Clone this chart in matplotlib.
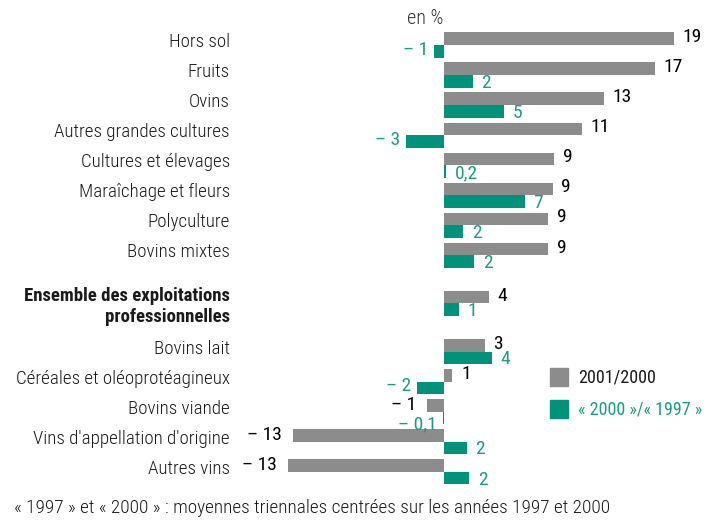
import matplotlib.pyplot as plt
from matplotlib.patches import Rectangle

plt.rcParams['font.family'] = ['Roboto Condensed', 'Liberation Sans Narrow', 'Roboto', 'DejaVu Sans']

# data
categories = ["Hors sol", "Fruits", "Ovins", "Autres grandes cultures",
              "Cultures et élevages", "Maraîchage et fleurs", "Polyculture",
              "Bovins mixtes", "Ensemble des exploitations\nprofessionnelles",
              "Bovins lait", "Céréales et oléoprotéagineux", "Bovins viande",
              "Vins d'appellation d'origine", "Autres vins"]
evol_2001 = [19.0, 17.4, 13.2, 11.4, 9.1, 9.0, 8.6, 8.6, 3.7, 3.4, 0.7, -1.4, -12.5, -12.9]
evol_9700 = [-0.8, 2.4, 5.0, -3.1, 0.2, 6.7, 1.6, 2.5, 1.2, 4.0, -2.2, -0.1, 1.9, 2.1]
labels_2001 = ["19", "17", "13", "11", "9", "9", "9", "9", "4", "3", "1", "– 1", "– 13", "– 13"]
labels_9700 = ["– 1", "2", "5", "– 3", "0,2", "7", "2", "2", "1", "4", "– 2", "– 0,1", "2", "2"]

gray = "#8c8c8c"
teal = "#00927a"
teal_txt = "#1b9c84"

# row positions (gap around the "Ensemble" row)
pos = []
for i in range(len(categories)):
    if i < 8:
        pos.append(i)
    elif i == 8:
        pos.append(8.6)
    else:
        pos.append(10.2 + (i - 9))

fig = plt.figure(figsize=(7.07, 5.22), dpi=100)
ax = fig.add_axes([0, 0, 1, 1])
sx = 12.1  # px per unit
ax.set_xlim(-444 / sx, (707 - 444) / sx)
pitch = 30.05
ax.set_ylim((522 - 45) / pitch, -45 / pitch)
ax.axis("off")

h = 0.42
ax.barh([p - h / 2 for p in pos], evol_2001, height=h, color=gray)
ax.barh([p + h / 2 for p in pos], evol_9700, height=h, color=teal)

num_fs = 14
cat_fs = 13.7
off = 0.7
for i, p in enumerate(pos):
    v = evol_2001[i]
    if v >= 0:
        ax.text(v + off, p - h / 2 - 0.05, labels_2001[i], ha="left", va="center",
                fontsize=num_fs, color="black")
    else:
        ax.text(v - 0.9, p - h / 2, labels_2001[i], ha="right", va="center",
                fontsize=num_fs, color="black")
    g = evol_9700[i]
    if g >= 0:
        ax.text(g + off, p + h / 2 + 0.05, labels_9700[i], ha="left", va="center",
                fontsize=num_fs, color=teal_txt)
    else:
        dy = 0.2 if abs(g) < 0.5 else -0.05
        ax.text(g - 0.5, p + h / 2 + dy, labels_9700[i], ha="right", va="center",
                fontsize=num_fs, color=teal_txt)

    if i == 8:
        ax.text((230 - 444) / sx, p + 0.1, categories[i], ha="right", va="center",
                fontsize=13.5, color="#1a1a1a", fontweight="bold", linespacing=1.25)
    else:
        ax.text((230 - 444) / sx, p - 0.1, categories[i], ha="right", va="center",
                fontsize=cat_fs, color="#1a1a1a", fontweight="light")

fig.text(443 / 707, 1 - 18 / 522, "en %", ha="right", va="center", fontsize=14.5,
         color="#333333", fontweight="light")

# legend
fig.patches.append(Rectangle((550 / 707, 1 - 386 / 522), 18 / 707, 18 / 522,
                             transform=fig.transFigure, color=gray))
fig.patches.append(Rectangle((550 / 707, 1 - 418 / 522), 18 / 707, 18 / 522,
                             transform=fig.transFigure, color=teal))
fig.text(578 / 707, 1 - 377 / 522, "2001/2000", ha="left", va="center", fontsize=13, color="#1a1a1a")
fig.text(578 / 707, 1 - 409 / 522, "« 2000 »/« 1997 »", ha="left", va="center", fontsize=13, color=teal_txt)

fig.text(14 / 707, 1 - 508 / 522, "« 1997 » et « 2000 » : moyennes triennales centrées sur les années 1997 et 2000",
         ha="left", va="center", fontsize=13.85, color="#1a1a1a", fontweight="light")

fig.savefig("out.png", dpi=100)
